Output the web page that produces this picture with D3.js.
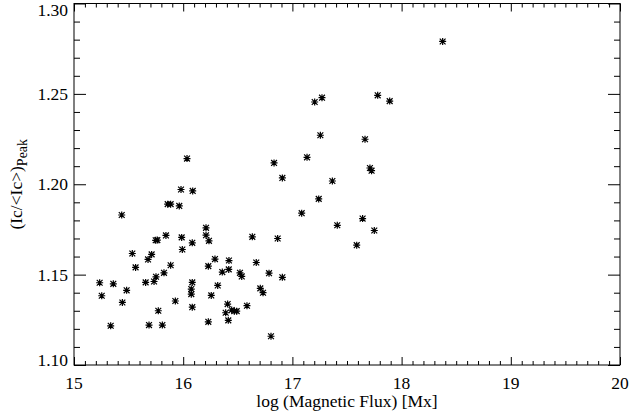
<!DOCTYPE html>
<html><head><meta charset="utf-8">
<script src="https://cdn.jsdelivr.net/npm/d3@7"></script>
<style>
html,body{margin:0;padding:0;background:#fff;}
svg{display:block;}
text{font-family:"Liberation Serif","Times New Roman",serif;fill:#000;}
</style></head>
<body>
<svg id="c" width="630" height="419"></svg>
<script>
// Data
const fluxLog = [18.376,17.204,17.271,17.781,17.891,17.256,17.665,17.710,17.725,17.366,17.241,
  16.035,16.832,16.908,17.134,15.980,16.087,15.858,15.885,15.964,17.085,17.643,17.411,17.750,17.589,
  15.437,15.763,15.748,15.842,15.986,16.083,15.992,15.534,15.711,15.678,15.564,15.885,15.824,15.751,
  15.733,15.656,15.235,15.360,16.083,16.074,16.074,15.254,15.482,15.443,15.928,16.083,15.772,15.336,
  15.687,15.809,16.209,16.209,16.236,16.633,16.865,16.291,16.230,16.419,16.358,16.417,16.520,16.536,
  16.669,16.786,16.908,16.316,16.257,16.706,16.731,16.407,16.584,16.389,16.444,16.468,16.490,16.413,
  16.230,16.804];
const icPeak = [1.2790,1.2455,1.2479,1.2492,1.2460,1.2271,1.2249,1.2090,1.2075,1.2018,1.1919,
  1.2142,1.2118,1.2035,1.2149,1.1971,1.1963,1.1890,1.1890,1.1880,1.1840,1.1810,1.1773,1.1744,1.1663,
  1.1830,1.1691,1.1690,1.1717,1.1706,1.1676,1.1639,1.1617,1.1612,1.1584,1.1540,1.1552,1.1510,1.1488,
  1.1462,1.1457,1.1455,1.1449,1.1457,1.1420,1.1392,1.1383,1.1413,1.1346,1.1354,1.1320,1.1300,1.1217,
  1.1221,1.1221,1.1759,1.1718,1.1687,1.1709,1.1700,1.1586,1.1547,1.1578,1.1514,1.1529,1.1510,1.1490,
  1.1567,1.1508,1.1485,1.1440,1.1385,1.1424,1.1400,1.1337,1.1328,1.1289,1.1304,1.1298,1.1298,1.1247,
  1.1239,1.1159];
const xTickLabels = ["15","16","17","18","19","20"];
const yTickLabels = ["1.10","1.15","1.20","1.25","1.30"];
const xMinorStep = 0.1, yMinorStep = 0.01;

const svg = d3.select("#c");
const L = 74, R = 620, T = 3.5, B = 365;
const x = d3.scaleLinear().domain([15, 20]).range([L, R]);
const y = d3.scaleLinear().domain([1.10, 1.30]).range([B, T]);

const xMajor = xTickLabels.map(Number);
const yMajor = yTickLabels.map(Number);
const xMinor = d3.range(0, 51).map(i => 15 + i * xMinorStep).filter(v => !xMajor.some(m => Math.abs(m - v) < 1e-6));
const yMinor = d3.range(0, 21).map(i => 1.10 + i * yMinorStep).filter(v => !yMajor.some(m => Math.abs(m - v) < 1e-6));

function styleAxis(g){ g.select(".domain").remove(); g.selectAll("line").attr("stroke","#000").attr("stroke-width",1); g.selectAll("text").remove(); }

// bottom
svg.append("g").attr("transform",`translate(0,${B})`).call(d3.axisTop(x).tickValues(xMinor).tickSize(4)).call(styleAxis);
svg.append("g").attr("transform",`translate(0,${B})`).call(d3.axisTop(x).tickValues(xMajor).tickSize(8)).call(styleAxis);
// top
svg.append("g").attr("transform",`translate(0,${T})`).call(d3.axisBottom(x).tickValues(xMinor).tickSize(4)).call(styleAxis);
svg.append("g").attr("transform",`translate(0,${T})`).call(d3.axisBottom(x).tickValues(xMajor).tickSize(8)).call(styleAxis);
// left
svg.append("g").attr("transform",`translate(${L},0)`).call(d3.axisRight(y).tickValues(yMinor).tickSize(6)).call(styleAxis);
svg.append("g").attr("transform",`translate(${L},0)`).call(d3.axisRight(y).tickValues(yMajor).tickSize(12)).call(styleAxis);
// right
svg.append("g").attr("transform",`translate(${R},0)`).call(d3.axisLeft(y).tickValues(yMinor).tickSize(6)).call(styleAxis);
svg.append("g").attr("transform",`translate(${R},0)`).call(d3.axisLeft(y).tickValues(yMajor).tickSize(12)).call(styleAxis);

// frame
svg.append("rect").attr("x",L).attr("y",T).attr("width",R-L).attr("height",B-T)
  .attr("fill","none").attr("stroke","#000").attr("stroke-width",1);

// tick labels
svg.append("g").selectAll("text").data(xTickLabels).join("text")
  .attr("x", d => x(+d)).attr("y", 388.5).attr("text-anchor","middle")
  .style("font-size","17.5px").text(d => d);
svg.append("g").selectAll("text").data(yTickLabels).join("text")
  .attr("x", L - 6).attr("y", d => Math.min(Math.max(y(+d), 10), 360))
  .attr("dy","0.34em").attr("text-anchor","end")
  .style("font-size","17.5px").text(d => d);

// axis titles
svg.append("text").attr("x",(L+R)/2).attr("y",407).attr("text-anchor","middle")
  .style("font-size","17.5px").text("log (Magnetic Flux) [Mx]");
const yt = svg.append("text").attr("transform",`translate(22,${(T+B)/2}) rotate(-90)`)
  .attr("text-anchor","middle").style("font-size","17.5px");
yt.append("tspan").text("(Ic/<Ic>)");
yt.append("tspan").attr("dy","5").style("font-size","14px").text("Peak");

// points (asterisk markers)
const pts = fluxLog.map((v,i) => [v, icPeak[i]]);
const s = 3.5, d = 2.9;
const star = `M${-s},0L${s},0M0,${-s}L0,${s}M${-d},${-d}L${d},${d}M${-d},${d}L${d},${-d}`;
svg.append("g").selectAll("path").data(pts).join("path")
  .attr("transform", p => `translate(${x(p[0])},${y(p[1])})`)
  .attr("d", star).attr("stroke","#000").attr("stroke-width",1.2).attr("fill","none");
</script>
</body></html>
